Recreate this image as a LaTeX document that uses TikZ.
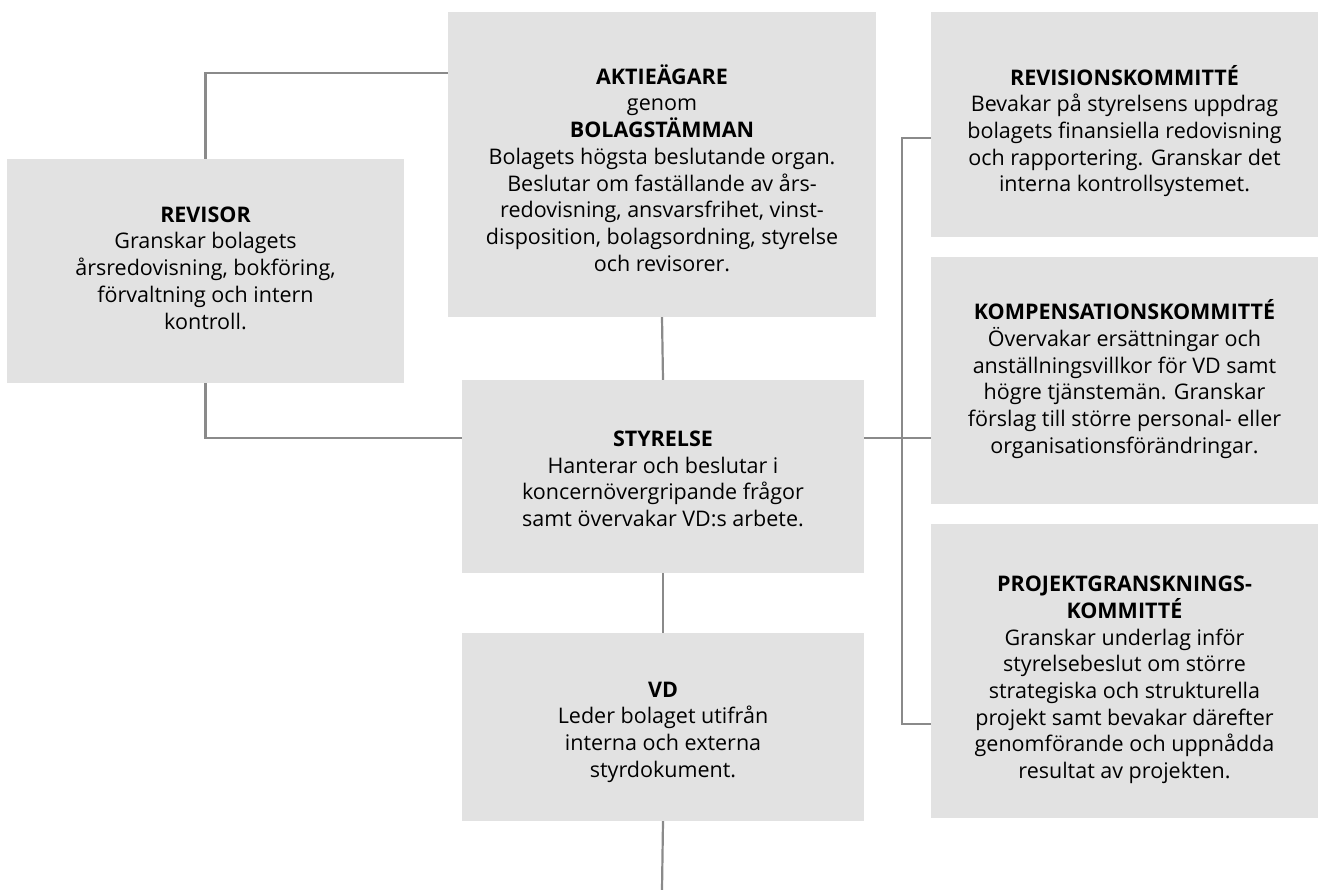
\documentclass[tikz,border=0pt]{standalone}
\usepackage{fontspec}
\setmainfont{Open Sans}
\definecolor{boxgray}{HTML}{E2E2E2}
\definecolor{linegray}{HTML}{8A8A8A}
\begin{document}
\begin{tikzpicture}[x=1pt,y=-1pt,
  orgbox/.style={fill=boxgray,draw=none,inner sep=0pt},
  orgtext/.style={inner sep=0pt,align=center,
    font=\fontsize{21.5}{26.7}\selectfont,text=black},
  conn/.style={draw=linegray,line width=2.2pt}]
\useasboundingbox (0,0) rectangle (1318,890);
\node[orgbox,minimum width=397pt,minimum height=224pt] (rev) at (205.5,271) {};
\node[orgtext] (revT) at (205.5,268) {\textbf{REVISOR}\\Granskar bolagets\\årsredovisning, bokföring,\\förvaltning och intern\\kontroll.};
\node[orgbox,minimum width=428pt,minimum height=305pt] (akt) at (662,164.5) {};
\node[orgtext] (aktT) at (662,168) {\textbf{AKTIEÄGARE}\\genom\\\textbf{BOLAGSTÄMMAN}\\Bolagets högsta beslutande organ.\\Beslutar om faställande av års-\\redovisning, ansvarsfrihet, vinst-\\disposition, bolagsordning, styrelse\\och revisorer.};
\node[orgbox,minimum width=402pt,minimum height=193pt] (sty) at (663,476.5) {};
\node[orgtext] (styT) at (663,479) {\textbf{STYRELSE}\\Hanterar och beslutar i\\koncernövergripande frågor\\samt övervakar VD:s arbete.};
\node[orgbox,minimum width=402pt,minimum height=188pt] (vd) at (663,727) {};
\node[orgtext] (vdT) at (663,732) {\textbf{VD}\\Leder bolaget utifrån\\interna och externa\\styrdokument.};
\node[orgbox,minimum width=387pt,minimum height=225pt] (rk) at (1124.5,124.5) {};
\node[orgtext] (rkT) at (1124.5,131) {\textbf{REVISIONSKOMMITTÉ}\\Bevakar på styrelsens uppdrag\\bolagets finansiella redovisning\\och rapportering. Granskar det\\interna kontrollsystemet.};
\node[orgbox,minimum width=387pt,minimum height=247pt] (kk) at (1124.5,380.5) {};
\node[orgtext] (kkT) at (1124.5,379) {\textbf{KOMPENSATIONSKOMMITTÉ}\\Övervakar ersättningar och\\anställningsvillkor för VD samt\\högre tjänstemän. Granskar\\förslag till större personal- eller\\organisationsförändringar.};
\node[orgbox,minimum width=387pt,minimum height=294pt] (pk) at (1124.5,671) {};
\node[orgtext] (pkT) at (1124.5,680) {\textbf{PROJEKTGRANSKNINGS-}\\\textbf{KOMMITTÉ}\\Granskar underlag inför\\styrelsebeslut om större\\strategiska och strukturella\\projekt samt bevakar därefter\\genomförande och uppnådda\\resultat av projekten.};
\coordinate (top) at (0,73);
\coordinate (mid) at (0,438);
\coordinate (bt) at (902,138);
\coordinate (bb) at (902,724);
\coordinate (end) at (662,890);
\draw[conn] (rev.north) |- (akt.west |- top);
\draw[conn] (rev.south) |- (sty.west |- mid);
\draw[conn] (akt.south) -- (sty.north);
\draw[conn] (sty.south) -- (vd.north);
\draw[conn] (vd.south) -- (end);
\draw[conn] (sty.east |- mid) -- (kk.west |- mid);
\draw[conn] (rk.west |- bt) -- (bt) -- (bb) -- (pk.west |- bb);
\end{tikzpicture}
\end{document}
